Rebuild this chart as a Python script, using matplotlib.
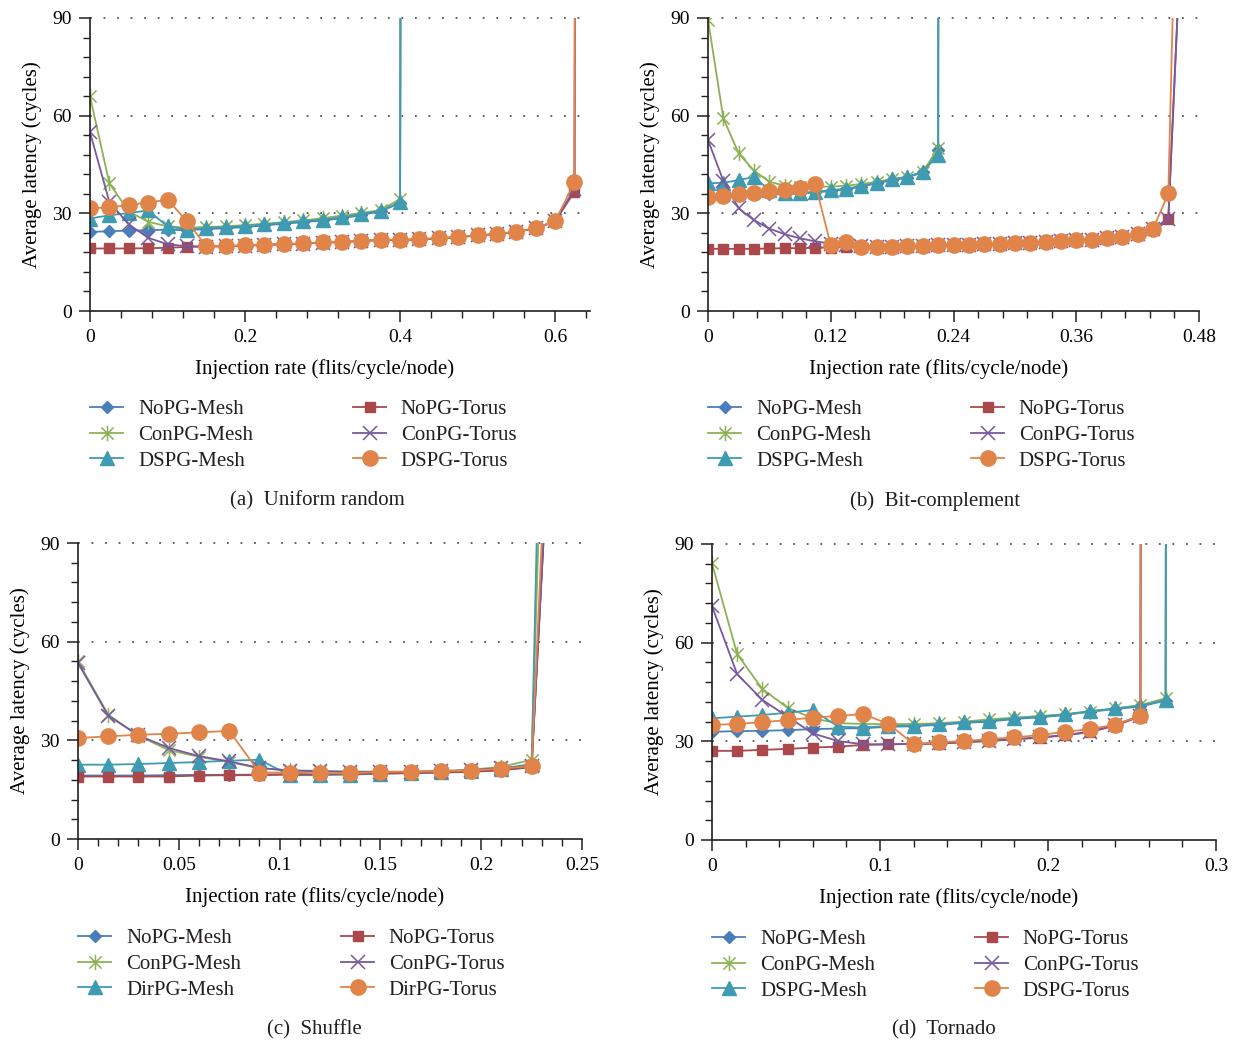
import matplotlib
matplotlib.use("Agg")
import matplotlib.pyplot as plt
from matplotlib.path import Path
from matplotlib.ticker import FixedLocator, MultipleLocator, FixedFormatter

plt.rcParams['font.family'] = ['Liberation Serif', 'DejaVu Serif']
plt.rcParams['text.color'] = '#231f20'

# ---------------- (a) Uniform random ----------------
a_x_mesh = [0, 0.025, 0.05, 0.075, 0.1, 0.125, 0.15, 0.175, 0.2, 0.225, 0.25, 0.275,
            0.3, 0.325, 0.35, 0.375, 0.4, 0.425]
a_x_torus = [0, 0.025, 0.05, 0.075, 0.1, 0.125, 0.15, 0.175, 0.2, 0.225, 0.25, 0.275,
             0.3, 0.325, 0.35, 0.375, 0.4, 0.425, 0.45, 0.475, 0.5, 0.525, 0.55, 0.575,
             0.6, 0.625, 0.65]
a_nopg_mesh = [24.3, 24.5, 24.7, 24.8, 25.0, 24.8, 25.2, 25.4, 25.8, 26.3, 26.8, 27.3,
               27.8, 28.5, 29.5, 30.6, 33.2, 3000]
a_conpg_mesh = [65.9, 39.2, 30.6, 27.4, 26.0, 25.6, 25.8, 26.0, 26.4, 26.8, 27.3, 27.8,
                28.5, 29.3, 30.1, 31.0, 34.4, 3000]
a_dspg_mesh = [28.4, 29.4, 30.1, 30.9, 26.0, 25.0, 25.5, 25.7, 26.1, 26.6, 27.1, 27.6,
               28.1, 28.8, 29.8, 30.8, 33.4, 3000]
a_nopg_torus = [19.2, 19.2, 19.2, 19.3, 19.4, 19.7, 19.8, 19.9, 20.1, 20.3, 20.5, 20.7,
                21.0, 21.2, 21.5, 21.8, 21.8, 22.0, 22.3, 22.7, 23.2, 23.6, 24.3, 25.4,
                27.5, 36.7, 3000]
a_conpg_torus = [54.9, 33.5, 26.6, 22.5, 20.5, 19.9, 19.8, 19.9, 20.1, 20.3, 20.5, 20.7,
                 21.0, 21.2, 21.5, 21.8, 21.8, 22.0, 22.3, 22.7, 23.2, 23.6, 24.3, 25.4,
                 27.6, 37.5, 3000]
a_dspg_torus = [31.6, 31.8, 32.6, 33.3, 34.2, 27.6, 19.9, 20.0, 20.2, 20.4, 20.6, 20.8,
                21.1, 21.3, 21.6, 21.9, 21.9, 22.1, 22.4, 22.8, 23.3, 23.7, 24.4, 25.5,
                27.6, 39.5, 3000]

# ---------------- (b) Bit-complement ----------------
b_x_mesh = [0, 0.015, 0.03, 0.045, 0.06, 0.075, 0.09, 0.105, 0.12, 0.135, 0.15, 0.165,
            0.18, 0.195, 0.21, 0.225, 0.24]
b_x_torus = [0, 0.015, 0.03, 0.045, 0.06, 0.075, 0.09, 0.105, 0.12, 0.135, 0.15, 0.165,
             0.18, 0.195, 0.21, 0.225, 0.24, 0.255, 0.27, 0.285, 0.3, 0.315, 0.33, 0.345,
             0.36, 0.375, 0.39, 0.405, 0.42, 0.435, 0.45, 0.465]
b_nopg_mesh = [35.0, 35.4, 35.8, 36.2, 35.8, 35.9, 36.1, 36.4, 36.9, 37.4, 38.2, 39.2,
               40.2, 41.0, 42.6, 49.4, 5000]
b_conpg_mesh = [89.5, 59.2, 48.4, 43.1, 39.7, 38.5, 38.2, 38.2, 38.2, 38.5, 39.0, 39.7,
                40.5, 41.2, 42.8, 50.0, 5000]
b_dspg_mesh = [39.2, 39.4, 40.2, 41.2, 37.1, 36.1, 36.3, 36.6, 37.1, 37.6, 38.4, 39.4,
               40.4, 41.2, 42.8, 47.9, 5000]
b_nopg_torus = [19.1, 19.1, 19.1, 19.1, 19.2, 19.3, 19.3, 19.4, 19.5, 19.6, 19.6, 19.6,
                19.6, 19.8, 20.0, 20.1, 20.2, 20.3, 20.4, 20.6, 20.8, 20.9, 21.1, 21.4,
                21.6, 21.8, 22.2, 22.7, 23.4, 25.0, 28.4, 133]
b_conpg_torus = [52.5, 40.0, 31.5, 27.9, 25.3, 23.6, 22.3, 21.4, 20.7, 20.3, 19.9, 19.8,
                 19.8, 19.9, 20.1, 20.2, 20.3, 20.4, 20.5, 20.7, 20.9, 21.0, 21.2, 21.5,
                 21.7, 21.9, 22.3, 22.8, 23.5, 25.1, 28.4, 133]
b_dspg_torus = [34.9, 35.4, 35.8, 36.3, 36.8, 37.3, 37.8, 38.9, 20.2, 21.2, 19.7, 19.7,
                19.7, 19.9, 20.1, 20.2, 20.3, 20.4, 20.5, 20.7, 20.9, 21.0, 21.2, 21.5,
                21.7, 21.9, 22.3, 22.8, 23.5, 25.1, 36.1, 228]

# ---------------- (c) Shuffle ----------------
c_x = [0, 0.015, 0.03, 0.045, 0.06, 0.075, 0.09, 0.105, 0.12, 0.135, 0.15, 0.165,
       0.18, 0.195, 0.21, 0.225, 0.24]
c_nopg_mesh = [19.3, 19.3, 19.3, 19.4, 19.5, 19.5, 19.6, 19.7, 19.8, 19.9, 20.0, 20.1,
               20.3, 20.5, 21.0, 21.8, 200]
c_conpg_mesh = [54.0, 37.8, 31.4, 27.0, 25.0, 23.4, 21.5, 20.9, 20.7, 20.5, 20.5, 20.5,
                20.7, 21.1, 21.9, 24.1, 323]
c_dirpg_mesh = [22.6, 22.6, 22.8, 23.1, 23.4, 23.8, 24.1, 19.4, 19.4, 19.6, 19.8, 20.2,
                20.4, 20.8, 21.4, 22.8, 425]
c_nopg_torus = [19.0, 19.0, 19.0, 19.0, 19.3, 19.4, 19.4, 19.6, 19.7, 19.8, 19.9, 20.0,
                20.2, 20.4, 20.9, 21.9, 198]
c_conpg_torus = [53.5, 37.5, 31.5, 27.7, 25.2, 23.6, 21.6, 20.8, 20.6, 20.4, 20.4, 20.4,
                 20.6, 20.9, 21.6, 22.2, 195]
c_dirpg_torus = [30.7, 31.2, 31.7, 32.0, 32.4, 32.9, 20.2, 20.2, 20.0, 20.0, 20.4, 20.4,
                 20.6, 20.8, 21.4, 22.2, 226]

# ---------------- (d) Tornado ----------------
d_x_mesh = [0, 0.015, 0.03, 0.045, 0.06, 0.075, 0.09, 0.105, 0.12, 0.135, 0.15, 0.165,
            0.18, 0.195, 0.21, 0.225, 0.24, 0.255, 0.27, 0.285]
d_x_torus = [0, 0.015, 0.03, 0.045, 0.06, 0.075, 0.09, 0.105, 0.12, 0.135, 0.15, 0.165,
             0.18, 0.195, 0.21, 0.225, 0.24, 0.255, 0.27]
d_nopg_mesh = [32.9, 33.1, 33.2, 33.4, 33.7, 33.9, 34.0, 34.4, 34.6, 35.0, 35.6, 36.0,
               36.8, 37.3, 38.0, 39.0, 39.8, 40.6, 42.4, 5000]
d_conpg_mesh = [84.1, 56.5, 45.9, 40.2, 37.0, 35.5, 35.3, 35.2, 35.3, 35.5, 36.0, 36.7,
                37.2, 37.7, 38.2, 39.0, 40.0, 41.0, 43.1, 5000]
d_dspg_mesh = [37.0, 37.5, 38.0, 38.7, 39.5, 34.5, 34.2, 34.7, 34.8, 35.2, 35.8, 36.2,
               37.0, 37.5, 38.2, 39.2, 40.0, 40.8, 42.6, 5000]
d_nopg_torus = [27.1, 27.1, 27.4, 27.7, 28.1, 28.4, 28.9, 29.1, 29.2, 29.3, 29.7, 30.1,
                30.6, 31.1, 31.8, 32.8, 34.8, 37.5, 5000]
d_conpg_torus = [71.1, 50.4, 42.6, 37.5, 32.4, 30.1, 29.1, 29.1, 29.2, 29.4, 29.8, 30.2,
                 30.7, 31.2, 31.9, 32.9, 35.0, 37.8, 5000]
d_dspg_torus = [35.0, 35.3, 35.8, 36.5, 37.2, 37.7, 38.3, 35.3, 29.2, 29.7, 30.1, 30.7,
                31.2, 31.9, 32.9, 33.7, 35.1, 37.7, 5000]

names_dspg = ['NoPG-Mesh', 'ConPG-Mesh', 'DSPG-Mesh', 'NoPG-Torus', 'ConPG-Torus', 'DSPG-Torus']
names_dirpg = ['NoPG-Mesh', 'ConPG-Mesh', 'DirPG-Mesh', 'NoPG-Torus', 'ConPG-Torus', 'DirPG-Torus']

colors = ['#4a7ebb', '#8db255', '#3e9bb2', '#aa484b', '#77599d', '#e0844a']
asterisk = Path([(-1, -1), (1, 1), (-1, 1), (1, -1), (0, -1.25), (0, 1.25)],
                [Path.MOVETO, Path.LINETO] * 3)
styles = [dict(marker='D', ms=6.5),
          dict(marker=asterisk, ms=11, mfc='none', mew=1.1),
          dict(marker='^', ms=9.5),
          dict(marker='s', ms=7.5),
          dict(marker='x', ms=10, mew=1.1),
          dict(marker='o', ms=11)]

panels = [
    dict(rect=[90, 18, 500, 293], xlim=0.645, major=[0, 0.2, 0.4, 0.6],
         labels=['0', '0.2', '0.4', '0.6'], minor=0.04,
         xs=[a_x_mesh, a_x_mesh, a_x_mesh, a_x_torus, a_x_torus, a_x_torus],
         ys=[a_nopg_mesh, a_conpg_mesh, a_dspg_mesh, a_nopg_torus, a_conpg_torus, a_dspg_torus],
         names=names_dspg, caption='(a)  Uniform random', cap_xy=(317, 501)),
    dict(rect=[708, 18, 491, 293], xlim=0.48, major=[0, 0.12, 0.24, 0.36, 0.48],
         labels=['0', '0.12', '0.24', '0.36', '0.48'], minor=0.024,
         xs=[b_x_mesh, b_x_mesh, b_x_mesh, b_x_torus, b_x_torus, b_x_torus],
         ys=[b_nopg_mesh, b_conpg_mesh, b_dspg_mesh, b_nopg_torus, b_conpg_torus, b_dspg_torus],
         names=names_dspg, caption='(b)  Bit-complement', cap_xy=(935, 501)),
    dict(rect=[78, 543, 504, 296], xlim=0.25, major=[0, 0.05, 0.1, 0.15, 0.2, 0.25],
         labels=['0', '0.05', '0.1', '0.15', '0.2', '0.25'], minor=0.01,
         xs=[c_x] * 6,
         ys=[c_nopg_mesh, c_conpg_mesh, c_dirpg_mesh, c_nopg_torus, c_conpg_torus, c_dirpg_torus],
         names=names_dirpg, caption='(c)  Shuffle', cap_xy=(314, 1030)),
    dict(rect=[712, 544, 504, 296], xlim=0.3, major=[0, 0.1, 0.2, 0.3],
         labels=['0', '0.1', '0.2', '0.3'], minor=0.02,
         xs=[d_x_mesh, d_x_mesh, d_x_mesh, d_x_torus, d_x_torus, d_x_torus],
         ys=[d_nopg_mesh, d_conpg_mesh, d_dspg_mesh, d_nopg_torus, d_conpg_torus, d_dspg_torus],
         names=names_dspg, caption='(d)  Tornado', cap_xy=(944, 1030)),
]

W, H = 1257, 1045
fig = plt.figure(figsize=(W / 100, H / 100), dpi=100)

for p in panels:
    l, t, w, h = p['rect']
    ax = fig.add_axes([l / W, 1 - (t + h) / H, w / W, h / H])
    for k in range(6):
        ax.plot(p['xs'][k], p['ys'][k], color=colors[k], lw=1.3, mec=colors[k],
                label=p['names'][k], **styles[k])
    ax.set_xlim(0, p['xlim'])
    ax.set_ylim(0, 90)
    for s in ['top', 'right']:
        ax.spines[s].set_visible(False)
    for s in ['left', 'bottom']:
        ax.spines[s].set_color('#231f20')
        ax.spines[s].set_linewidth(1.2)
    ax.xaxis.set_major_locator(FixedLocator(p['major']))
    ax.xaxis.set_major_formatter(FixedFormatter(p['labels']))
    ax.xaxis.set_minor_locator(MultipleLocator(p['minor']))
    ax.yaxis.set_major_locator(FixedLocator([0, 30, 60, 90]))
    ax.yaxis.set_minor_locator(MultipleLocator(6))
    ax.tick_params(which='major', length=8, width=1.1, color='#231f20', labelsize=14, pad=5)
    ax.tick_params(which='minor', length=5, width=1.0, color='#231f20')
    for gy in [30, 60, 90]:
        ax.axhline(gy, color='#555555', lw=1.3, ls=(0, (1, 6.5)), zorder=0.5, clip_on=False)
    ax.set_xlabel('Injection rate (flits/cycle/node)', fontsize=15)
    ax.xaxis.set_label_coords(0.47, -0.163)
    ax.set_ylabel('Average latency (cycles)', fontsize=15)
    ax.yaxis.set_label_coords(-48 / w, 0.5)
    ax.legend(loc='upper left', bbox_to_anchor=(0, -0.302), ncol=2, frameon=False,
              fontsize=15, borderpad=0, borderaxespad=0, handlelength=1.6,
              handletextpad=0.7, columnspacing=4.8, labelspacing=0.3)
    fig.text(p['cap_xy'][0] / W, 1 - p['cap_xy'][1] / H, p['caption'], fontsize=15,
             ha='center', va='center')

fig.savefig('out.png', dpi=100)
